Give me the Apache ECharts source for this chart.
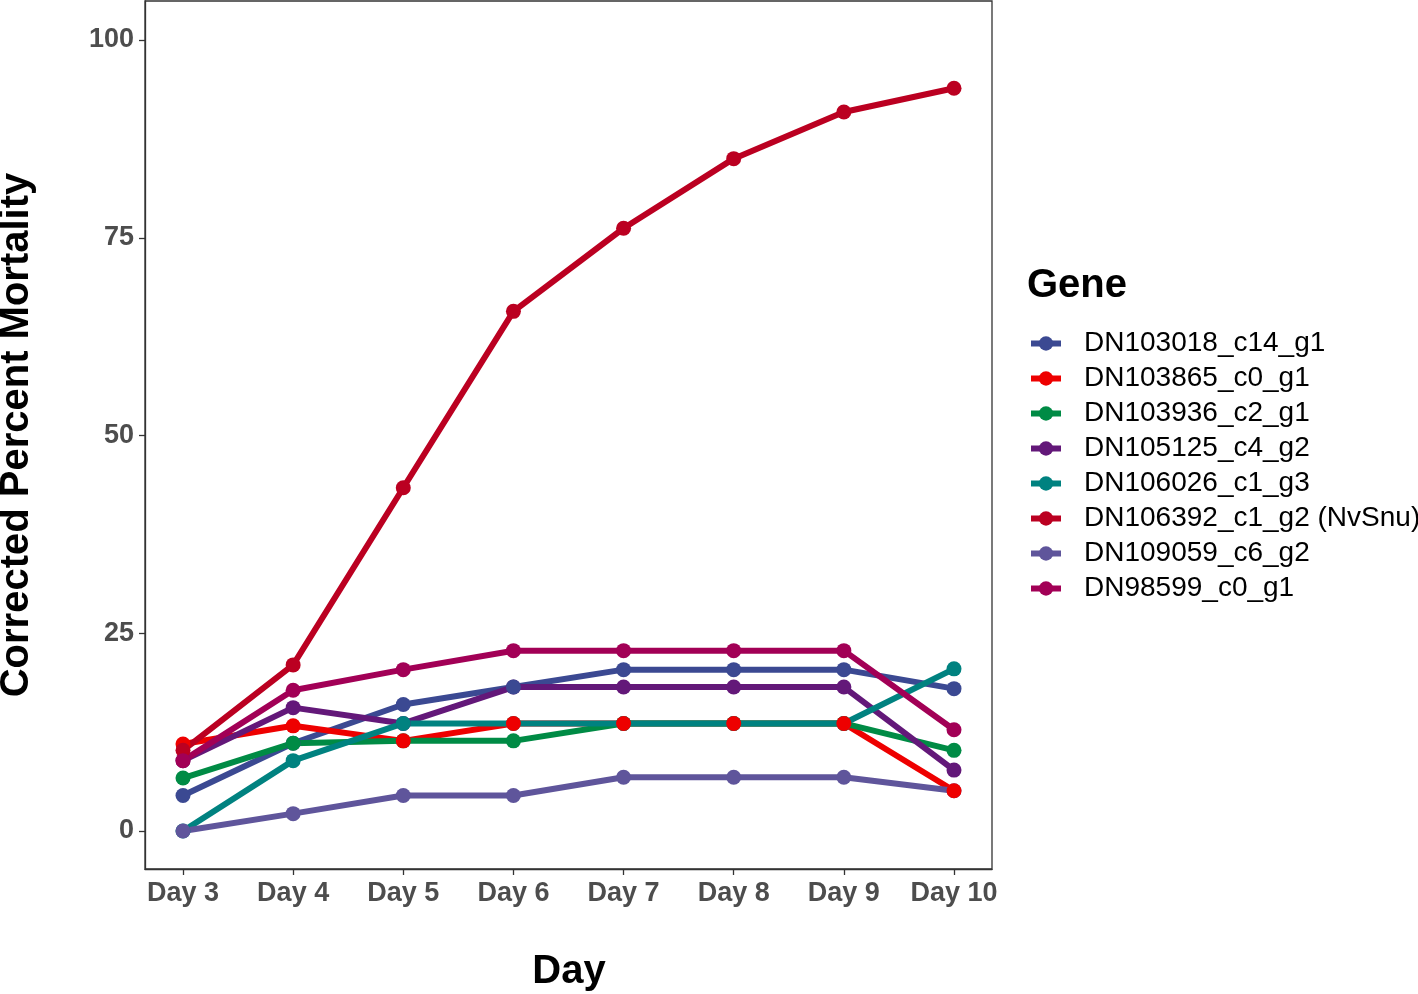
<!DOCTYPE html>
<html>
<head>
<meta charset="utf-8">
<script src="https://cdn.jsdelivr.net/npm/echarts@6/dist/echarts.min.js"></script>
<style>
  html, body { margin: 0; padding: 0; background: #fff; }
  #chart { width: 1418px; height: 994px; }
</style>
</head>
<body>
<div id="chart"></div>
<script>
const days = [3, 4, 5, 6, 7, 8, 9, 10];
const dayLabels = ['Day 3', 'Day 4', 'Day 5', 'Day 6', 'Day 7', 'Day 8', 'Day 9', 'Day 10'];
const yTicks = [0, 25, 50, 75, 100];
const genes = ['DN103018_c14_g1', 'DN103865_c0_g1', 'DN103936_c2_g1', 'DN105125_c4_g2',
  'DN106026_c1_g3', 'DN106392_c1_g2 (NvSnu)', 'DN109059_c6_g2', 'DN98599_c0_g1'];
const geneColors = ['#3B4992', '#EE0000', '#008B45', '#631879', '#008280', '#BB0021', '#5F559B', '#A20056'];

const DN103018 = [4.5, 11.1, 16.0, 18.2, 20.4, 20.4, 20.4, 18.0];
const DN103865 = [11.0, 13.3, 11.4, 13.6, 13.6, 13.6, 13.6, 5.1];
const DN103936 = [6.7, 11.1, 11.4, 11.4, 13.6, 13.6, 13.6, 10.2];
const DN105125 = [8.9, 15.6, 13.6, 18.2, 18.2, 18.2, 18.2, 7.7];
const DN106026 = [0, 8.9, 13.6, 13.6, 13.6, 13.6, 13.6, 20.5];
const DN106392 = [10.2, 21.0, 43.4, 65.7, 76.2, 85.0, 90.9, 93.9];
const DN109059 = [0, 2.2, 4.5, 4.5, 6.8, 6.8, 6.8, 5.1];
const DN98599 = [8.9, 17.8, 20.4, 22.8, 22.8, 22.8, 22.8, 12.8];

const values = [DN103018, DN103865, DN103936, DN105125, DN106026, DN106392, DN109059, DN98599];
// drawing order of the points (indices into genes)
const pointOrder = [3, 0, 2, 4, 6, 1, 5, 7];

const FONT = '"Liberation Sans", Arial, Helvetica, sans-serif';

const series = [];
genes.forEach((g, i) => {
  series.push({
    name: g, type: 'line', z: 2,
    data: days.map((d, k) => [d, values[i][k]]),
    symbol: 'circle', symbolSize: 15, showSymbol: false,
    itemStyle: { color: geneColors[i] },
    lineStyle: { width: 6, color: geneColors[i] },
    emphasis: { disabled: true }
  });
});
pointOrder.forEach((i) => {
  series.push({
    name: genes[i], type: 'scatter', z: 3,
    data: days.map((d, k) => [d, values[i][k]]),
    symbol: 'circle', symbolSize: 15,
    itemStyle: { color: geneColors[i], opacity: 1 },
    emphasis: { disabled: true }
  });
});

const chart = echarts.init(document.getElementById('chart'), null, { renderer: 'canvas' });
chart.setOption({
  animation: false,
  backgroundColor: '#ffffff',
  grid: { left: 145, right: 426, top: 1, bottom: 125, show: true, borderColor: '#333333', borderWidth: 1.3, backgroundColor: '#ffffff' },
  xAxis: {
    type: 'value', min: 2.655, max: 10.345,
    splitLine: { show: false },
    axisLine: { show: true, onZero: false, lineStyle: { color: '#333333', width: 1.3 } },
    axisTick: { show: true, length: 6, lineStyle: { color: '#333333', width: 1.3 }, customValues: days },
    axisLabel: {
      customValues: days,
      formatter: v => dayLabels[days.indexOf(Math.round(v))],
      color: '#4D4D4D', fontFamily: FONT, fontWeight: 'bold', fontSize: 27, margin: 11
    }
  },
  yAxis: {
    type: 'value', min: -4.8, max: 104.93,
    splitLine: { show: false },
    axisLine: { show: true, onZero: false, lineStyle: { color: '#333333', width: 1.3 } },
    axisTick: { show: true, length: 6, lineStyle: { color: '#333333', width: 1.3 }, customValues: yTicks },
    axisLabel: {
      customValues: yTicks,
      color: '#4D4D4D', fontFamily: FONT, fontWeight: 'bold', fontSize: 27, margin: 11
    }
  },
  legend: {
    left: 1028, top: 326, orient: 'vertical', padding: 0, itemGap: 0,
    itemWidth: 30, itemHeight: 18, selectedMode: false,
    data: genes,
    lineStyle: { width: 6 },
    textStyle: { fontFamily: FONT, fontSize: 28, color: '#000000', lineHeight: 35, padding: [0, 0, 0, 18] }
  },
  graphic: [
    { type: 'text', left: 1027, top: 266, style: { text: 'Gene', font: 'bold 40px ' + FONT, fill: '#000000' } },
    { type: 'text', x: 569, y: 972, style: { text: 'Day', font: 'bold 40px ' + FONT, fill: '#000000', align: 'center', verticalAlign: 'middle' } },
    { type: 'text', x: 17, y: 435, rotation: Math.PI / 2, style: { text: 'Corrected Percent Mortality', font: 'bold 40px ' + FONT, fill: '#000000', align: 'center', verticalAlign: 'middle' } }
  ],
  series: series
});
</script>
</body>
</html>
